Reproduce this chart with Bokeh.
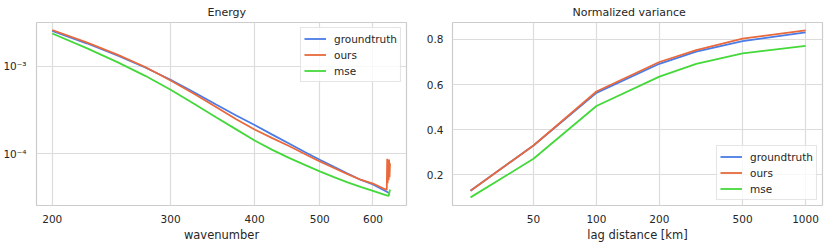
from bokeh.plotting import figure
from bokeh.models import FixedTicker, Legend, LegendItem, Range1d
from bokeh.layouts import row
from bokeh.embed import file_html
from bokeh.resources import INLINE

# ---------------- data: Energy spectrum ----------------
wn_gt = [200, 225, 250, 275, 300, 325, 350, 375, 400, 425, 450, 475, 500,
         525, 550, 575, 600, 625, 634]
energy_gt = [2.55e-3, 1.844e-3, 1.337e-3, 9.74e-4, 7.04e-4, 5.08e-4, 3.69e-4,
             2.77e-4, 2.137e-4, 1.659e-4, 1.312e-4, 1.051e-4, 8.56e-5, 7.10e-5,
             5.95e-5, 5.05e-5, 4.47e-5, 3.77e-5, 3.56e-5]

wn_ours = [200, 225, 250, 275, 300, 325, 350, 375, 400, 425, 450, 475, 500,
           525, 550, 575, 600, 620, 629, 630, 631, 632, 633, 634, 635, 636]
energy_ours = [2.618e-3, 1.888e-3, 1.365e-3, 9.87e-4, 6.91e-4, 4.88e-4,
               3.455e-4, 2.504e-4, 1.898e-4, 1.513e-4, 1.228e-4, 9.97e-5,
               8.18e-5, 6.88e-5, 5.85e-5, 5.05e-5, 4.57e-5, 4.05e-5, 3.85e-5,
               8.8e-5, 4.6e-5, 8.2e-5, 5.0e-5, 8.6e-5, 5.4e-5, 7.8e-5]

wn_mse = [200, 225, 250, 275, 300, 325, 350, 375, 400, 425, 450, 475, 500,
          525, 550, 575, 600, 625, 633, 636]
energy_mse = [2.388e-3, 1.625e-3, 1.123e-3, 7.82e-4, 5.41e-4, 3.74e-4, 2.64e-4,
              1.918e-4, 1.42e-4, 1.111e-4, 9.0e-5, 7.46e-5, 6.3e-5, 5.41e-5,
              4.72e-5, 4.18e-5, 3.77e-5, 3.38e-5, 3.29e-5, 3.9e-5]

energy_xticks = [200, 300, 400, 500, 600]
energy_xtick_labels = ["200", "300", "400", "500", "600"]
energy_yticks = [1e-3, 1e-4]
energy_ytick_labels = ["10\u207b\u00b3", "10\u207b\u2074"]

# ---------------- data: Normalized variance ----------------
lag = [25, 50, 100, 200, 300, 500, 1000]
var_gt = [0.129, 0.330, 0.563, 0.692, 0.746, 0.792, 0.831]
var_ours = [0.129, 0.330, 0.569, 0.700, 0.753, 0.804, 0.840]
var_mse = [0.100, 0.271, 0.505, 0.635, 0.692, 0.738, 0.771]

var_xticks = [50, 100, 200, 500, 1000]
var_xtick_labels = ["50", "100", "200", "500", "1000"]
var_yticks = [0.2, 0.4, 0.6, 0.8]

series_names = ["groundtruth", "ours", "mse"]
colors = ["#4a7be8", "#e8693c", "#44d83a"]

FONT = "DejaVu Sans"
TXT = "#262626"
GRID = "#dcdcdc"


def style(p, title, title_offset, xlabel):
    p.title.text = title
    p.title.text_font = FONT
    p.title.text_font_size = "11px"
    p.title.text_font_style = "normal"
    p.title.text_color = TXT
    p.title.align = "left"
    p.title.offset = title_offset
    p.title.standoff = 7
    p.outline_line_color = "#cccccc"
    p.outline_line_width = 1.2
    p.background_fill_color = "white"
    p.border_fill_color = "white"
    for ax in (p.xaxis[0], p.yaxis[0]):
        ax.axis_line_color = None
        ax.major_tick_line_color = None
        ax.minor_tick_line_color = None
        ax.major_tick_out = 0
        ax.major_tick_in = 0
        ax.minor_tick_out = 0
        ax.minor_tick_in = 0
        ax.major_label_text_font = FONT
        ax.major_label_text_font_size = "10.5px"
        ax.major_label_text_color = TXT
        ax.axis_label_text_font = FONT
        ax.axis_label_text_font_size = "11.5px"
        ax.axis_label_text_font_style = "normal"
        ax.axis_label_text_color = TXT
    p.xaxis[0].axis_label = xlabel
    p.xaxis[0].major_label_standoff = 9
    p.xaxis[0].axis_label_standoff = 2
    p.yaxis[0].major_label_standoff = 9
    for g in (p.xgrid[0], p.ygrid[0]):
        g.grid_line_color = GRID
        g.grid_line_width = 1.2
        g.minor_grid_line_color = None


def make_legend(p, renderers, location):
    items = [LegendItem(label=n, renderers=[r]) for n, r in zip(series_names, renderers)]
    leg = Legend(items=items, location=location)
    leg.label_text_font = FONT
    leg.label_text_font_size = "10.5px"
    leg.label_text_color = TXT
    leg.glyph_width = 22
    leg.glyph_height = 15
    leg.label_height = 15
    leg.label_standoff = 8
    leg.spacing = 1
    leg.padding = 3
    leg.margin = 5
    leg.border_line_color = "#cccccc"
    leg.border_line_width = 1
    leg.background_fill_color = "white"
    leg.background_fill_alpha = 0.8
    p.add_layout(leg)


# ---------------- left figure ----------------
p1 = figure(frame_width=370, frame_height=183, x_axis_type="log", y_axis_type="log",
            x_range=Range1d(189.5, 673), y_range=Range1d(2.56e-5, 3.19e-3),
            min_border_left=36, min_border_right=14, min_border_top=21,
            min_border_bottom=40, output_backend="svg", toolbar_location=None)
style(p1, "Energy", 171, "wavenumber")
p1.xaxis[0].ticker = FixedTicker(ticks=energy_xticks, minor_ticks=[])
p1.xaxis[0].major_label_overrides = dict(zip(energy_xticks, energy_xtick_labels))
p1.yaxis[0].ticker = FixedTicker(ticks=energy_yticks, minor_ticks=[])
p1.yaxis[0].major_label_overrides = dict(zip(energy_yticks, energy_ytick_labels))
p1.yaxis[0].major_label_standoff = 10

r1 = [
    p1.line(wn_gt, energy_gt, line_color=colors[0], line_width=1.8),
    p1.line(wn_ours, energy_ours, line_color=colors[1], line_width=1.8),
    p1.line(wn_mse, energy_mse, line_color=colors[2], line_width=1.8),
]
make_legend(p1, r1, "top_right")

# ---------------- right figure ----------------
p2 = figure(frame_width=370, frame_height=183, x_axis_type="log",
            x_range=Range1d(20.5, 1205), y_range=Range1d(0.064, 0.875),
            min_border_left=32, min_border_right=8, min_border_top=21,
            min_border_bottom=40, output_backend="svg", toolbar_location=None)
style(p2, "Normalized variance", 120, "lag distance [km]")
p2.xaxis[0].ticker = FixedTicker(ticks=var_xticks, minor_ticks=[])
p2.xaxis[0].major_label_overrides = dict(zip(var_xticks, var_xtick_labels))
p2.yaxis[0].ticker = FixedTicker(ticks=var_yticks, minor_ticks=[])

r2 = [
    p2.line(lag, var_gt, line_color=colors[0], line_width=1.8),
    p2.line(lag, var_ours, line_color=colors[1], line_width=1.8),
    p2.line(lag, var_mse, line_color=colors[2], line_width=1.8),
]
make_legend(p2, r2, "bottom_right")

layout = row(p1, p2)
open("out.html", "w").write(file_html(layout, INLINE))
